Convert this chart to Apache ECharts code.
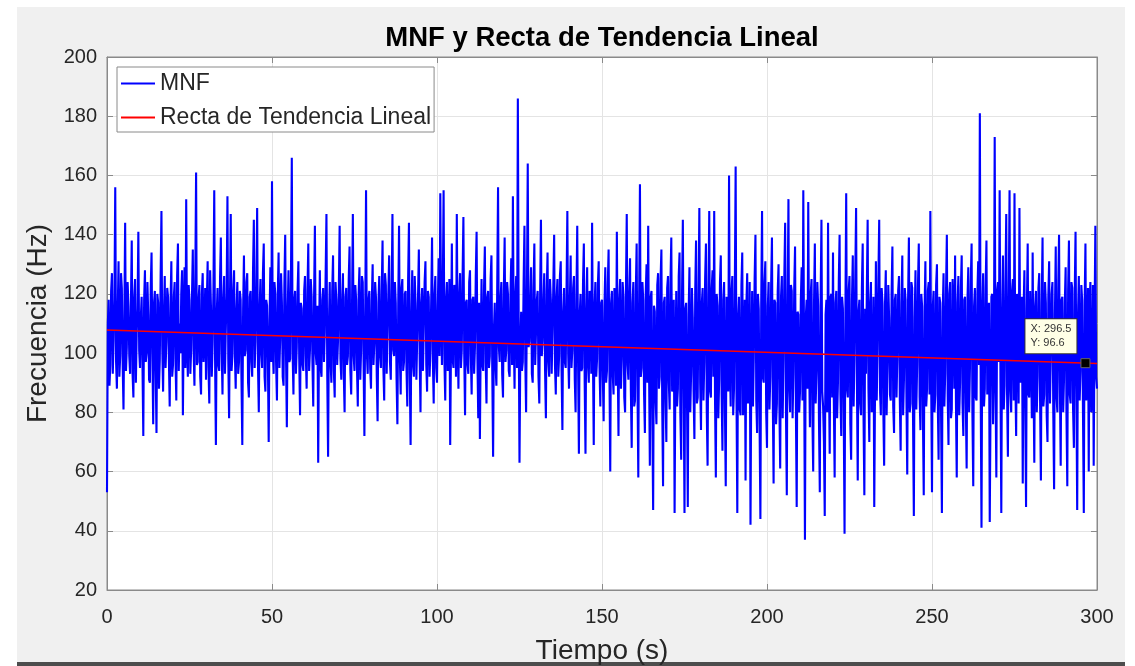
<!DOCTYPE html>
<html>
<head>
<meta charset="utf-8">
<script src="https://cdn.jsdelivr.net/npm/echarts@6/dist/echarts.min.js"></script>
<style>
html,body{margin:0;padding:0;background:#fff;}
#c{width:1135px;height:666px;}
</style>
</head>
<body>
<div id="c"></div>
<script>
// ---- data ----
const titleText = 'MNF y Recta de Tendencia Lineal';
const xName = 'Tiempo (s)';
const yName = 'Frecuencia (Hz)';
const seriesNames = ['MNF', 'Recta de Tendencia Lineal'];
const sampleStep = 0.5; // seconds between samples in mnf
// MNF read at t = 0, 0.5, 1.0, ... 300 s
const mnf = [
53,118,96,127,104,156,88,131,99,122,81,144,102,116,93,138,85,125,107,141,
95,119,72,128,100,113,90,134,76,121,73,117,98,148,87,126,104,119,82,131,
96,124,84,137,110,120,79,129,152,92,118,101,135,89,161,97,123,86,127,105,
91,131,83,116,103,155,69,122,94,139,86,126,108,153,78,147,99,128,88,124,
97,118,69,133,101,127,85,121,92,145,104,149,80,125,95,137,87,116,70,129,
158,93,120,84,134,106,117,89,140,75,128,98,166,86,121,102,131,79,115,94,
126,88,137,101,119,82,143,96,63,128,92,122,107,147,65,124,90,133,85,118,
104,143,91,127,80,122,99,136,86,147,94,118,82,129,101,124,72,155,93,121,
88,130,103,119,77,126,95,138,84,123,108,133,91,147,99,117,76,143,86,125,
97,121,82,144,69,128,92,117,105,135,80,122,94,131,87,119,101,139,83,126,
90,132,154,96,155,84,124,108,69,137,95,121,147,88,127,101,146,79,118,93,
128,86,119,102,141,78,71,125,94,136,83,121,99,133,65,117,89,156,97,124,
85,139,101,120,92,132,153,88,126,186,63,114,97,143,80,164,104,129,90,137,
96,121,83,145,104,127,78,134,92,118,107,140,86,125,99,131,74,122,95,148,
88,133,101,126,80,143,66,120,95,137,66,129,90,117,144,69,124,98,131,82,
118,77,129,94,135,60,121,86,113,141,72,125,98,119,80,147,91,132,68,124,
84,137,58,157,95,118,73,130,143,62,121,47,114,76,127,92,135,55,119,70,
126,81,139,96,46,121,88,134,64,145,46,117,48,129,93,112,71,138,85,149,
74,122,97,137,62,148,85,128,148,58,116,91,133,67,124,55,108,160,82,126,
88,163,46,119,79,134,95,57,127,86,42,121,99,140,73,115,44,148,90,131,
68,124,92,139,56,117,83,130,61,126,98,144,52,152,80,121,93,136,48,113,
87,129,155,37,118,151,75,125,60,137,94,116,53,145,82,45,118,144,66,120,
134,58,121,90,140,72,115,39,154,85,126,64,133,98,149,57,118,79,137,52,
93,145,70,124,88,48,131,101,145,79,117,62,128,96,112,84,136,73,120,99,
126,67,133,91,118,59,139,83,122,45,128,96,137,74,116,52,131,88,124,148,
53,121,86,130,64,117,46,127,93,140,69,124,81,115,133,58,126,90,133,72,
119,61,129,95,137,55,122,84,131,181,41,127,88,138,104,43,119,76,173,58,
124,155,46,133,89,147,65,155,80,125,154,72,118,149,94,56,128,48,137,85,
103,134,63,121,92,127,57,139,86,117,70,131,99,124,54,136,80,140,62,119,
91,129,55,138,83,122,68,141,47,126,94,118,46,137,100,60,124,88,62,143,
88
];
// MNF read at the in-between instants t = 0.25, 0.75, ... 299.75 s
const mnfMid = [
110,89,121,93,118,97,114,92,127,96,112,94,124,99,117,93,119,90,115,101,
112,96,118,97,124,91,122,100,117,94,120,88,126,102,113,95,122,98,116,92,
119,98,126,94,100,128,111,95,104,123,93,119,101,124,96,118,92,120,97,122,
117,95,128,92,121,98,113,96,125,101,118,93,120,98,116,94,121,100,115,93,
121,91,115,99,124,90,119,97,128,95,122,96,115,100,127,92,118,98,111,97,
101,124,96,120,95,127,92,123,99,114,97,126,100,118,93,121,98,117,96,121,
99,121,94,125,97,119,100,116,104,95,118,97,126,92,110,97,121,94,124,96,
122,98,117,93,119,96,125,94,116,99,123,95,120,91,126,97,113,100,118,95,
118,96,124,92,117,99,121,95,127,93,120,97,119,101,124,91,116,98,122,94,
120,95,125,93,112,96,126,91,119,98,117,94,124,96,121,92,118,97,120,95,
116,99,113,121,97,118,94,125,103,98,123,92,106,119,95,126,100,117,96,124,
99,118,93,126,98,117,104,96,122,97,119,95,125,94,108,96,123,102,118,93,
121,97,124,94,119,96,107,119,95,112,101,94,124,98,120,102,116,93,122,96,
118,92,120,99,117,94,121,97,125,93,123,96,119,92,126,94,114,97,121,100,
117,95,122,91,119,97,113,94,124,90,115,96,121,93,99,116,92,123,95,117,
92,116,90,123,94,117,93,122,89,98,118,88,124,85,121,96,120,87,117,82,
121,89,118,92,124,86,120,90,96,119,78,116,84,123,88,125,82,117,85,122,
90,124,87,118,95,82,126,79,120,88,115,85,113,80,122,87,121,83,119,90,
117,84,125,80,119,87,122,92,84,120,78,124,86,118,81,119,87,96,121,79,
122,86,112,81,123,79,118,116,83,124,96,82,125,84,120,76,117,92,124,80,
116,81,123,85,118,76,121,82,119,78,126,80,117,88,123,78,122,82,114,80,
118,84,96,112,88,100,120,79,117,83,124,77,118,87,70,113,80,95,119,85,
84,117,78,124,86,119,80,112,88,121,76,118,82,126,90,114,83,122,79,115,
121,88,117,80,119,90,84,125,87,122,81,116,79,123,86,120,82,118,85,121,
84,117,79,122,85,118,80,124,78,112,81,123,85,120,78,114,82,121,86,90,
116,80,123,84,119,79,114,82,121,86,120,78,125,88,84,117,79,122,83,118,
83,118,80,124,79,116,85,120,96,88,115,82,122,86,117,84,120,97,89,121,
97,90,112,81,123,86,118,87,121,84,92,120,83,90,119,114,82,115,86,121,
78,92,116,80,122,84,117,82,124,79,119,83,120,80,113,85,122,90,118,80,
117,79,121,86,124,81,120,88,113,84,123,80,116,84,122,117,80,123,110,92
];
const trendX = [0, 300];
const trendY = [107.8, 96.5];
const tipX = 296.5;
const tipY = 96.6;
const xMin = 0, xMax = 300, xStep = 50;
const yMin = 20, yMax = 200, yStep = 20;

// ---- build ----
const mnfData = [];
mnf.forEach((v, i) => {
  mnfData.push([i * sampleStep, v]);
  if (i < mnfMid.length) mnfData.push([i * sampleStep + sampleStep / 2, mnfMid[i]]);
});
const trendData = trendX.map((x, i) => [x, trendY[i]]);

const FONT = '"Liberation Sans", Arial, Helvetica, sans-serif';
const TXT = '#262626';
const AXC = '#8a8a8a';

function xAx(pos, main) {
  return {
    type: 'value', min: xMin, max: xMax, interval: xStep, position: pos,
    axisLine: {show: true, onZero: false, lineStyle: {color: AXC, width: 1}},
    axisTick: {show: true, inside: true, length: 6, lineStyle: {color: AXC}},
    axisLabel: {show: main, fontFamily: FONT, fontSize: 20, color: TXT, margin: 17},
    splitLine: {show: main, lineStyle: {color: '#e4e4e4', width: 1}},
    name: main ? xName : '', nameLocation: 'middle', nameGap: 47,
    nameTextStyle: {fontFamily: FONT, fontSize: 28, color: TXT}
  };
}
function yAx(pos, main) {
  return {
    type: 'value', min: yMin, max: yMax, interval: yStep, position: pos,
    axisLine: {show: true, onZero: false, lineStyle: {color: AXC, width: 1}},
    axisTick: {show: true, inside: true, length: 6, lineStyle: {color: AXC}},
    axisLabel: {show: main, fontFamily: FONT, fontSize: 20, color: TXT, margin: 10},
    splitLine: {show: main, lineStyle: {color: '#e4e4e4', width: 1}},
    name: main ? yName : '', nameLocation: 'middle', nameGap: 53,
    nameTextStyle: {fontFamily: FONT, fontSize: 28, color: TXT}
  };
}

const chart = echarts.init(document.getElementById('c'), null, {renderer: 'canvas'});
chart.setOption({
  animation: false,
  backgroundColor: '#ffffff',
  graphic: [
    {type: 'rect', silent: true, z: -10, shape: {x: 17, y: 7, width: 1108, height: 656}, style: {fill: '#f0f0f0'}},
    {type: 'rect', silent: true, z: -10, shape: {x: 17, y: 662, width: 1108, height: 4}, style: {fill: '#4d4d4d'}}
  ],
  title: {
    text: titleText, left: 597, top: 19, textAlign: 'center',
    textStyle: {fontFamily: FONT, fontSize: 27.5, fontWeight: 'bold', color: '#000'}
  },
  grid: {
    left: 107, top: 57, width: 990, height: 533, show: true, backgroundColor: '#ffffff',
    borderColor: AXC, borderWidth: 1, containLabel: false, outerBoundsMode: 'none'
  },
  legend: {
    orient: 'vertical', left: 117, top: 67, padding: [5, 3, 3, 4], itemGap: 11,
    itemWidth: 34, itemHeight: 2, icon: 'rect', backgroundColor: '#ffffff', borderColor: '#8a8a8a', borderWidth: 1,
    textStyle: {fontFamily: FONT, fontSize: 23, color: TXT},
    data: seriesNames
  },
  xAxis: [xAx('bottom', true), xAx('top', false)],
  yAxis: [yAx('left', true), yAx('right', false)],
  series: [
    {
      name: seriesNames[0], type: 'line', data: mnfData, symbol: 'none', showSymbol: false,
      lineStyle: {color: '#0000ff', width: 2.1}, itemStyle: {color: '#0000ff'}, z: 2
    },
    {
      name: seriesNames[1], type: 'line', data: trendData, symbol: 'none', showSymbol: false,
      lineStyle: {color: '#ff0000', width: 1.5}, itemStyle: {color: '#ff0000'}, z: 3
    },
    {
      name: 'datatip', type: 'scatter', data: [[tipX, tipY]], symbol: 'rect', symbolSize: 9,
      itemStyle: {color: '#000', borderColor: '#666', borderWidth: 1, opacity: 1}, z: 5,
      label: {
        show: true, position: [-55, -39], opacity: 1,
        formatter: 'X: ' + tipX + '\nY: ' + tipY,
        fontFamily: FONT, fontSize: 11, lineHeight: 14, color: '#333',
        backgroundColor: '#ffffe6', borderColor: '#333', borderWidth: 1, padding: [3, 5, 3, 5]
      }
    }
  ]
});
</script>
</body>
</html>
